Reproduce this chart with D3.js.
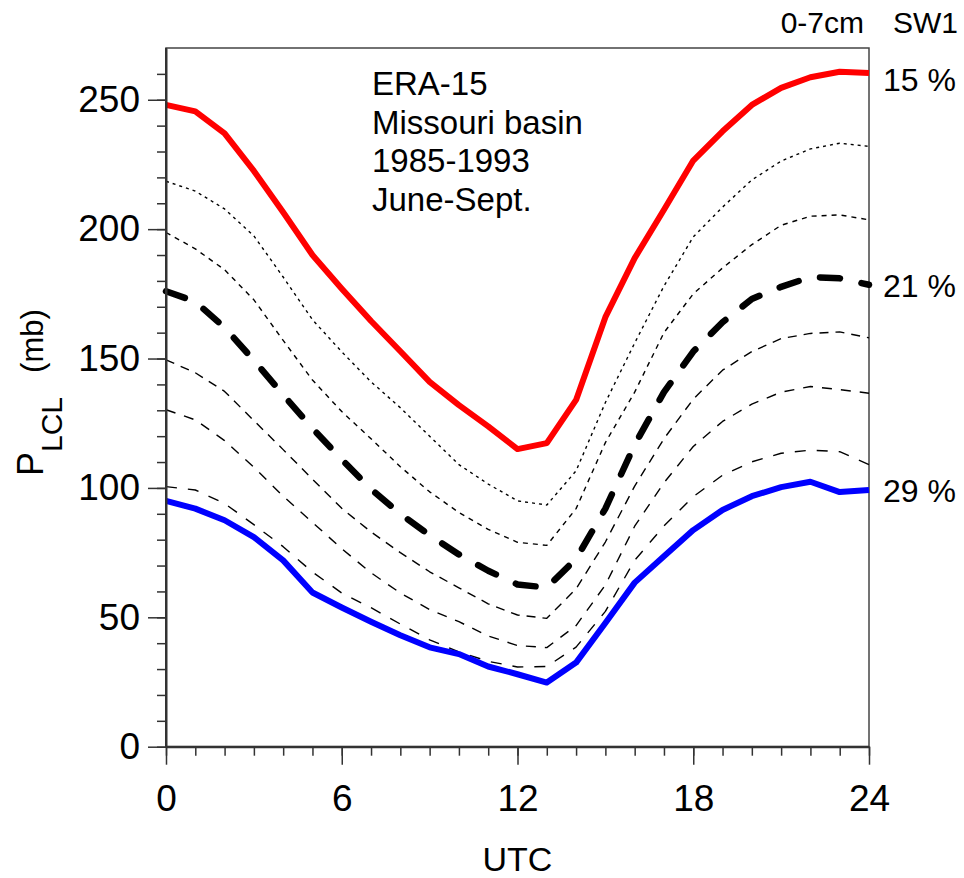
<!DOCTYPE html>
<html>
<head>
<meta charset="utf-8">
<script src="https://cdn.jsdelivr.net/npm/d3@7"></script>
<style>
  html, body { margin: 0; padding: 0; background: #fff; }
  svg { display: block; font-family: "Liberation Sans", Arial, sans-serif; }
</style>
</head>
<body>
<svg id="chart" width="964" height="878"></svg>
<script>
// ---- data ----
const hours = [0,1,2,3,4,5,6,7,8,9,10,11,12,13,14,15,16,17,18,19,20,21,22,23,24];
const sw15 = [248,245.5,237,222.5,206.5,190,177,164.5,152.8,141,132,123.8,115,117.3,134,166,188.8,207.5,226.5,237.8,248,254.6,258.7,260.8,260.3];
const sw17 = [218.5,214.7,207.8,197.4,181.5,165,152.6,141,131,120,109,101.5,95,93.4,106.6,133,156,178,197,208.5,219,226.3,231,233.2,232];
const sw19 = [198.7,192.4,184.3,172.7,157,141.7,129.5,119,108.2,98.5,90.5,84,79,77.8,92,117.5,137,160,175,185,194,201.5,205,205.5,203.6];
const sw21 = [176,172,162,149.3,136,123,111,99.5,90,81.7,74.3,68,62.7,61.5,72.6,92,116.7,137,152.7,164,173,177.7,181.5,181,178.5];
const sw23 = [149.5,144.5,137.3,126,114.8,103.4,92.1,83,75,67.6,61.4,55.2,50.9,49.6,61,79.1,100.7,119,134.3,145.5,152.7,157.7,159.7,160.3,158];
const sw25 = [130.2,126.3,118.3,108,96.8,86.7,76.5,67.2,59.4,53,48.3,42.8,39.1,38.3,46.8,62.5,85.2,102,116,125.7,132.4,137,139.2,138,136.6];
const sw27 = [100.5,99.2,94,85.8,77.3,67.5,59.4,53.7,47.4,41.3,36.6,33,30.8,31,38.5,52.3,72,85.3,96.6,104.9,110.1,113.4,114.6,114,109];
const sw29 = [95,92,87.5,81,72,59.6,53.8,48.3,43.1,38.4,35.8,31,28,24.8,32.5,47.8,63.4,73.6,83.7,91.5,96.8,100.3,102.4,98.4,99.2];

const xMajorTicks = [0,6,12,18,24];
const yMajorTicks = [0,50,100,150,200,250];
const yMinorTicks = [0,10,20,30,40,50,60,70,80,90,100,110,120,130,140,150,160,170,180,190,200,210,220,230,240,250,260];
const annotation = ["ERA-15","Missouri basin","1985-1993","June-Sept."];
const endLabels = [{name:"15 %", values: sw15}, {name:"21 %", values: sw21}, {name:"29 %", values: sw29}];

// ---- styles ----
const series = [
  {values: sw17, color:"#000", width:1.4, dash:"3,4"},
  {values: sw19, color:"#000", width:1.4, dash:"5,5"},
  {values: sw23, color:"#000", width:1.4, dash:"9,7"},
  {values: sw25, color:"#000", width:1.4, dash:"10,9"},
  {values: sw27, color:"#000", width:1.4, dash:"11,11"},
  {values: sw21, color:"#000", width:6.5, dash:"20,22", cap:"round"},
  {values: sw15, color:"#ff0000", width:6, dash:null},
  {values: sw29, color:"#0000ff", width:6, dash:null}
];

const svg = d3.select("#chart");
const pL = 166, pR = 869, pT = 48, pB = 746.7;
const x = d3.scaleLinear().domain([0,24]).range([pL,pR]);
const y = d3.scaleLinear().domain([0,270]).range([pB,pT]);

// frame
svg.append("rect").attr("x",pL).attr("y",pT).attr("width",pR-pL).attr("height",pB-pT)
  .attr("fill","none").attr("stroke","#444").attr("stroke-width",1.5);

// lines
const line = d3.line().x((d,i)=>x(hours[i])).y(d=>y(d));
series.forEach(s=>{
  svg.append("path").datum(s.values).attr("d",line)
    .attr("fill","none").attr("stroke",s.color).attr("stroke-width",s.width)
    .attr("stroke-dasharray",s.dash).attr("stroke-linecap",s.cap||"butt")
    .attr("stroke-linejoin","round");
});

// axes
const axisColor = "#333";
function styleAxis(g){
  g.select(".domain").attr("stroke",axisColor).attr("stroke-width",2);
  g.selectAll(".tick line").attr("stroke",axisColor).attr("stroke-width",1.5);
  g.selectAll(".tick text").attr("fill","#000").style("font-size","37px").style("font-family","'Liberation Sans', Arial, sans-serif");
}
const gxMinor = svg.append("g").attr("transform",`translate(0,${pB})`)
  .call(d3.axisBottom(x).tickValues(hours).tickSize(9).tickFormat("").tickSizeOuter(0));
styleAxis(gxMinor);
const gxMajor = svg.append("g").attr("transform",`translate(0,${pB})`)
  .call(d3.axisBottom(x).tickValues(xMajorTicks).tickSize(18).tickPadding(20).tickSizeOuter(0));
styleAxis(gxMajor);
const gyMinor = svg.append("g").attr("transform",`translate(${pL},0)`)
  .call(d3.axisLeft(y).tickValues(yMinorTicks).tickSize(9).tickFormat("").tickSizeOuter(0));
styleAxis(gyMinor);
const gyMajor = svg.append("g").attr("transform",`translate(${pL},0)`)
  .call(d3.axisLeft(y).tickValues(yMajorTicks).tickSize(18).tickPadding(8).tickSizeOuter(0));
styleAxis(gyMajor);
gxMinor.select(".domain").attr("d",`M${pL},0H${pR}`);
gyMinor.select(".domain").attr("d",`M0,${pB}V${pT}`);

// x title
svg.append("text").attr("x",x(12)).attr("y",871).attr("text-anchor","middle")
  .style("font-size","34px").text("UTC");

// y title
const yt = svg.append("text").attr("transform","translate(43,476) rotate(-90)")
  .attr("text-anchor","start").style("font-size","36px");
yt.append("tspan").text("P");
yt.append("tspan").attr("dy",19).style("font-size","30px").text("LCL");
yt.append("tspan").attr("dy",-19).attr("dx",24).style("font-size","31px").text("(mb)");

// annotation
annotation.forEach((t,i)=>{
  svg.append("text").attr("x",372).attr("y",95 + i*38.6).style("font-size","33px").text(t);
});

// header
svg.append("text").attr("x",864).attr("y",33).attr("text-anchor","end").style("font-size","30px").text("0-7cm");
svg.append("text").attr("x",893).attr("y",33).style("font-size","30px").text("SW1");

// end labels
const labelDy = [6, 1, 0];
endLabels.forEach((d,i)=>{
  svg.append("text").attr("x",883).attr("y",y(d.values[d.values.length-1]) + labelDy[i])
    .attr("dy","0.36em").style("font-size","32px").text(d.name);
});
</script>
</body>
</html>
